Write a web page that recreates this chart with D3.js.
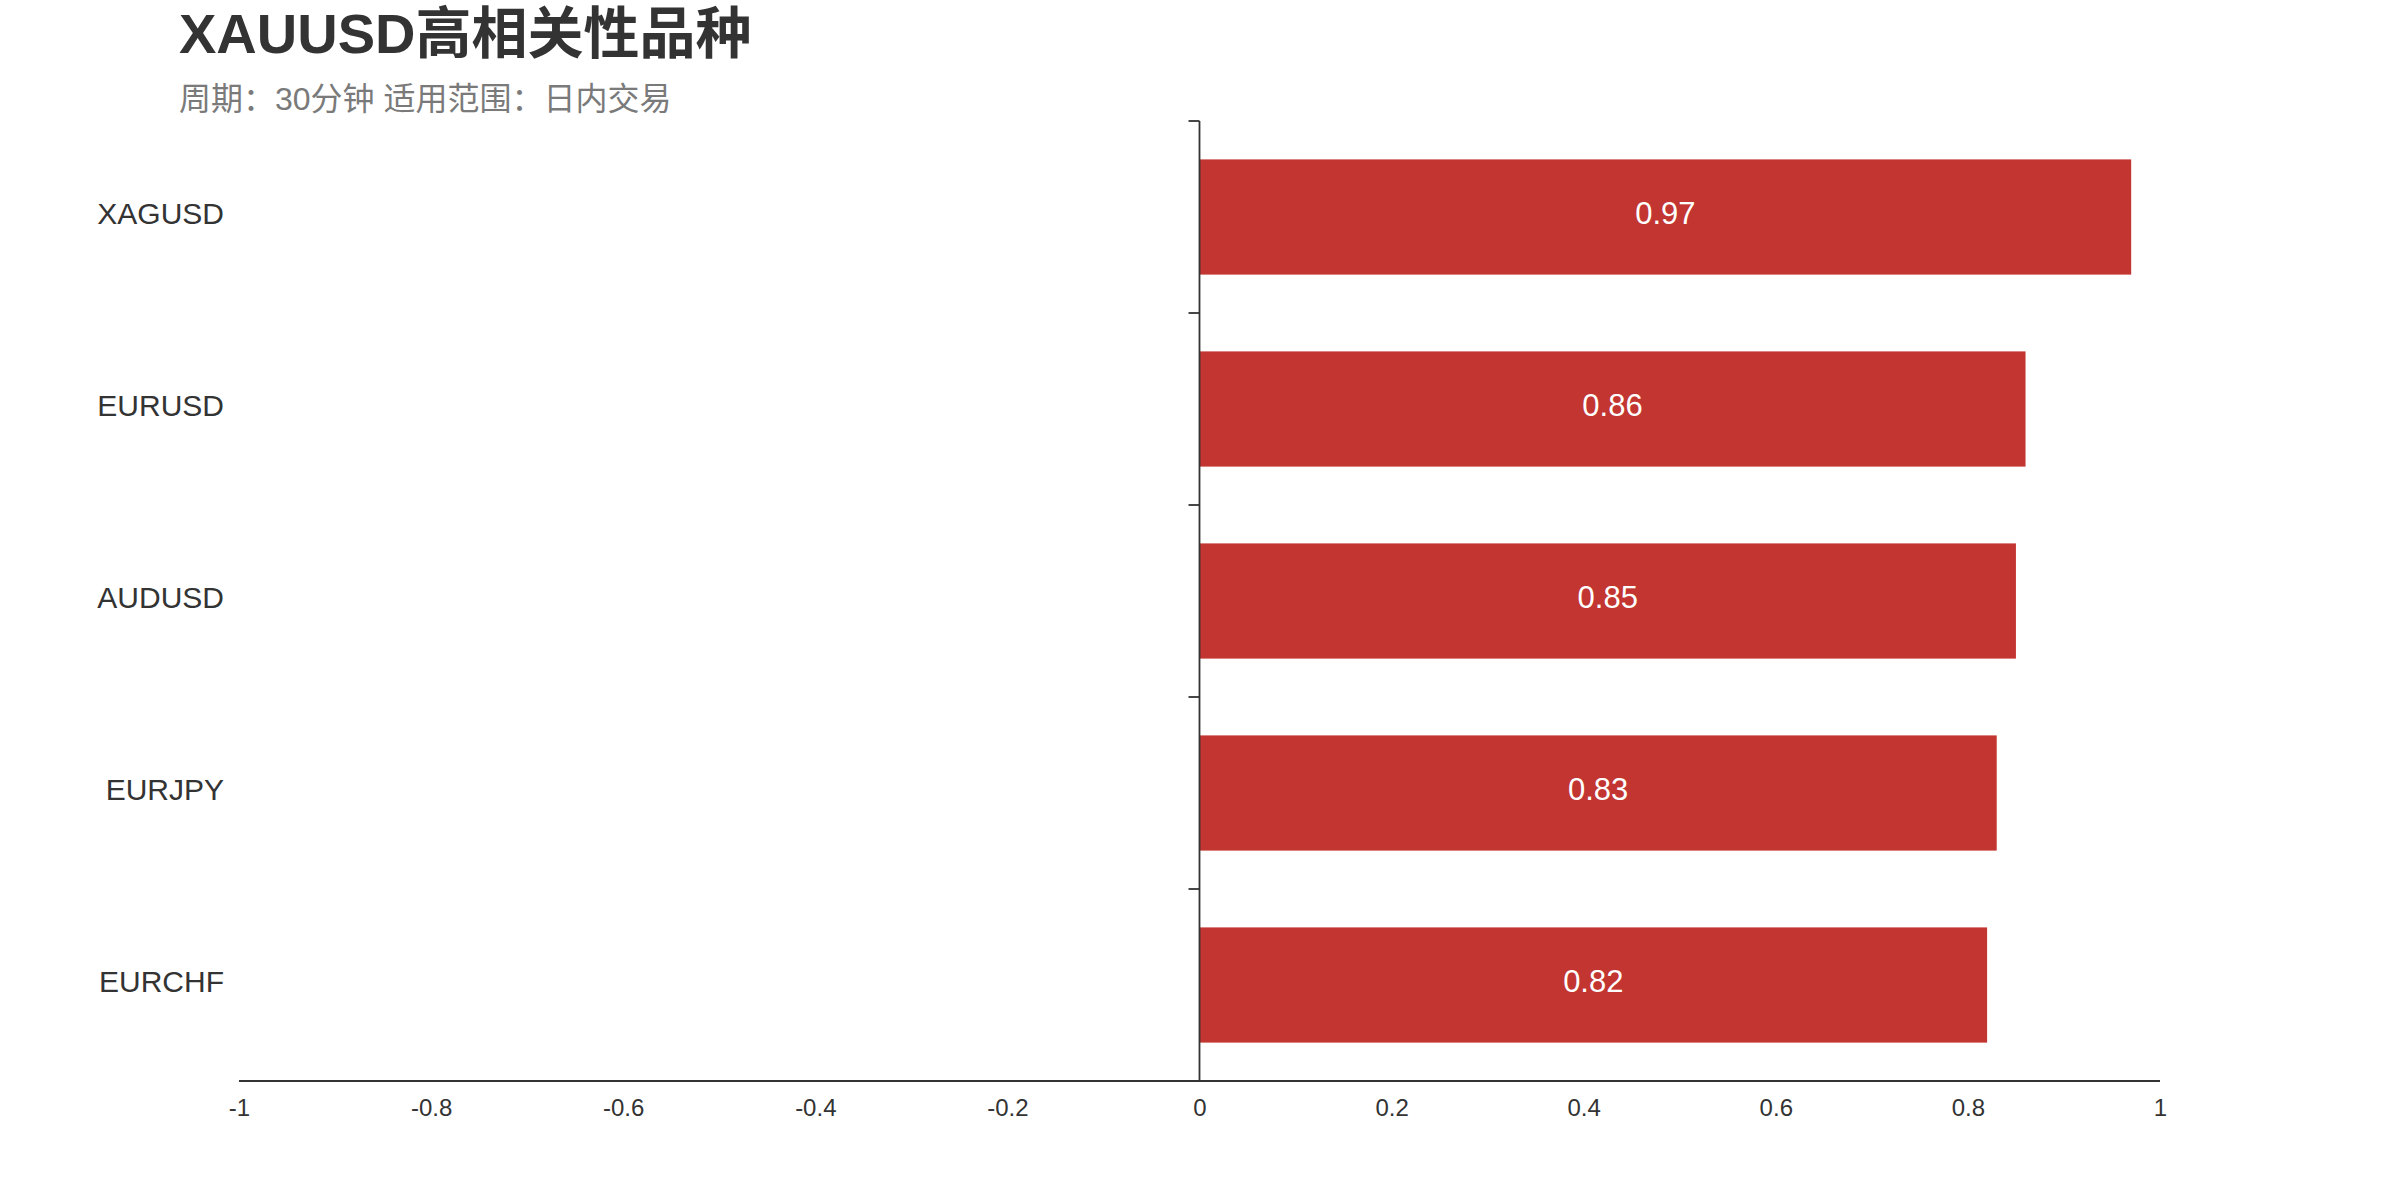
<!DOCTYPE html>
<html>
<head>
<meta charset="utf-8">
<script src="https://cdn.jsdelivr.net/npm/d3@7"></script>
<style>
  body { margin: 0; background: #fff; }
  text { font-family: "Liberation Sans", Arial, "Noto Sans CJK SC", sans-serif; }
</style>
</head>
<body>
<div class="chart"></div>
<script>
// correlation of XAUUSD with other symbols, top to bottom
const symbols = ['XAGUSD', 'EURUSD', 'AUDUSD', 'EURJPY', 'EURCHF'];
const correlations = [0.97, 0.86, 0.85, 0.83, 0.82];
const xTicks = [-1, -0.8, -0.6, -0.4, -0.2, 0, 0.2, 0.4, 0.6, 0.8, 1];

const titleText = 'XAUUSD高相关性品种';
const subtitleText = '周期：30分钟 适用范围：日内交易';

const W = 2400, H = 1200;
const margin = { top: 121, right: 240, bottom: 119, left: 239 };
const labelX = 224; // right edge of category labels

const svg = d3.select('.chart')
  .append('svg')
  .attr('width', W)
  .attr('height', H);

const x = d3.scaleLinear()
  .domain([-1, 1])
  .range([margin.left, W - margin.right]);

const y = d3.scaleBand()
  .domain(symbols)
  .range([margin.top, H - margin.bottom])
  .paddingInner(0.4)
  .paddingOuter(0.2);

const rows = symbols.map((s, i) => ({ name: s, value: correlations[i] }));

// title + subtitle
svg.append('text')
  .attr('x', 179)
  .attr('y', 53)
  .attr('fill', '#333')
  .style('font-size', '56px')
  .style('font-weight', 'bold')
  .text(titleText);

svg.append('text')
  .attr('x', 179)
  .attr('y', 110)
  .attr('fill', '#7a7a7a')
  .style('font-size', '32px')
  .text(subtitleText);

// bars
svg.selectAll('rect.bar')
  .data(rows)
  .enter()
  .append('rect')
  .attr('class', 'bar')
  .attr('x', d => Math.min(x(0), x(d.value)))
  .attr('y', d => y(d.name))
  .attr('width', d => Math.abs(x(d.value) - x(0)))
  .attr('height', y.bandwidth())
  .attr('fill', '#c23531');

// value labels inside bars
svg.selectAll('text.val')
  .data(rows)
  .enter()
  .append('text')
  .attr('class', 'val')
  .attr('x', d => (x(0) + x(d.value)) / 2)
  .attr('y', d => y(d.name) + y.bandwidth() / 2)
  .attr('dy', '0.24em')
  .attr('text-anchor', 'middle')
  .attr('fill', '#fff')
  .style('font-size', '31px')
  .text(d => d.value);

// category labels, far left
svg.selectAll('text.cat')
  .data(rows)
  .enter()
  .append('text')
  .attr('class', 'cat')
  .attr('x', labelX)
  .attr('y', d => y(d.name) + y.bandwidth() / 2)
  .attr('dy', '0.22em')
  .attr('text-anchor', 'end')
  .attr('fill', '#333')
  .style('font-size', '30px')
  .text(d => d.name);

// y axis line sits on zero, ticks between categories
const step = y.step();
const boundaries = d3.range(symbols.length).map(i => y(symbols[i]) - step * y.paddingOuter());

svg.append('line')
  .attr('x1', x(0)).attr('x2', x(0))
  .attr('y1', y.range()[0]).attr('y2', y.range()[1])
  .attr('stroke', '#333')
  .attr('stroke-width', 1.8);

svg.selectAll('line.ytick')
  .data(boundaries)
  .enter()
  .append('line')
  .attr('class', 'ytick')
  .attr('x1', x(0) - 11).attr('x2', x(0))
  .attr('y1', d => d).attr('y2', d => d)
  .attr('stroke', '#333')
  .attr('stroke-width', 1.8);

// x axis
const xAxis = d3.axisBottom(x)
  .tickValues(xTicks)
  .tickSize(0)
  .tickPadding(18)
  .tickFormat(d => String(d));

const gx = svg.append('g')
  .attr('transform', `translate(0,${y.range()[1]})`)
  .call(xAxis);

gx.select('.domain').remove();
gx.selectAll('text')
  .attr('fill', '#333')
  .style('font-size', '24px')
  .style('font-family', '"Liberation Sans", Arial, sans-serif');

gx.append('line')
  .attr('x1', x(-1)).attr('x2', x(1))
  .attr('y1', 0).attr('y2', 0)
  .attr('stroke', '#333')
  .attr('stroke-width', 2.2);
</script>
</body>
</html>
